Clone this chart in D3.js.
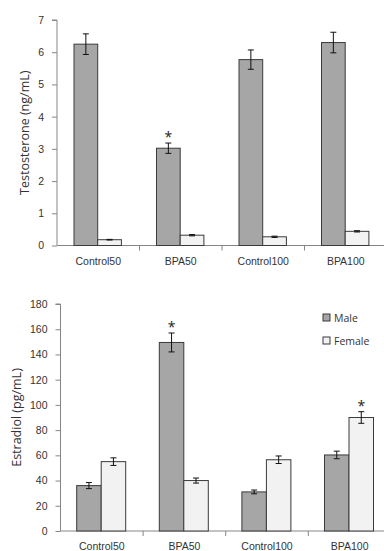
<!DOCTYPE html>
<html>
<head>
<meta charset="utf-8">
<script src="https://cdn.jsdelivr.net/npm/d3@7"></script>
<style>
  body { margin: 0; background: #fff; }
  svg { display: block; font-family: "Open Sans", sans-serif; }
  .axis path, .axis line { stroke: #868686; }
  .axis text { fill: #333; font-size: 10.5px; }
</style>
</head>
<body>
<div id="chart"></div>
<script>
var categories = ["Control50", "BPA50", "Control100", "BPA100"];
var groups = ["Male", "Female"];

var testoMale = [6.25, 3.02, 5.77, 6.3];
var testoMaleErr = [0.32, 0.16, 0.3, 0.32];
var testoFemale = [0.18, 0.32, 0.27, 0.44];
var testoFemaleErr = [0.01, 0.02, 0.02, 0.02];
var testoStars = [[1, "Male"]];

var estMale = [36, 149.5, 31, 60.3];
var estMaleErr = [2.4, 7.5, 1.5, 3];
var estFemale = [55, 40, 56.5, 90];
var estFemaleErr = [3, 2, 3, 4.6];
var estStars = [[1, "Male"], [3, "Female"]];

var colors = { Male: "#a6a6a6", Female: "#f2f2f2" };

var svg = d3.select("#chart")
  .append("svg")
  .attr("width", 384)
  .attr("height", 551);

function drawPanel(opt) {
  var x = d3.scaleBand()
    .domain(categories)
    .range([opt.left, opt.left + opt.bandW * 4]);

  var x1 = d3.scaleBand()
    .domain(groups)
    .range([opt.barOff, opt.barOff + opt.barW * 2]);

  var y = d3.scaleLinear()
    .domain([0, opt.max])
    .range([opt.bottom, opt.top]);

  var g = svg.append("g");

  // y axis
  g.append("g")
    .attr("class", "axis")
    .attr("transform", `translate(${opt.left},0)`)
    .call(d3.axisLeft(y).tickValues(opt.ticks).tickFormat(d3.format("d")).tickSize(5).tickPadding(8))
    .call(a => a.select(".domain").attr("d", `M-5,${opt.top}H0V${opt.bottom}`));

  // x axis
  var xa = g.append("g")
    .attr("class", "axis")
    .attr("transform", `translate(0,${opt.bottom})`)
    .call(d3.axisBottom(x).tickSize(0).tickPadding(12));
  xa.select(".domain").attr("d", `M${opt.left},0H${opt.left + opt.bandW * 4}`);
  xa.selectAll(".sep")
    .data(categories.slice(1))
    .enter()
    .append("line")
    .attr("x1", d => x(d))
    .attr("x2", d => x(d))
    .attr("y1", 0)
    .attr("y2", 5)
    .attr("stroke", "#868686");

  var rows = [];
  categories.forEach(function(c, i) {
    rows.push({ cat: c, grp: "Male", v: opt.male[i], e: opt.maleErr[i] });
    rows.push({ cat: c, grp: "Female", v: opt.female[i], e: opt.femaleErr[i] });
  });

  g.selectAll("rect.bar")
    .data(rows)
    .enter()
    .append("rect")
    .attr("class", "bar")
    .attr("x", d => x(d.cat) + x1(d.grp))
    .attr("y", d => y(d.v))
    .attr("width", x1.bandwidth())
    .attr("height", d => opt.bottom - y(d.v))
    .attr("fill", d => colors[d.grp])
    .attr("stroke", "#3a3a3a")
    .attr("stroke-width", 1);

  var eb = g.selectAll("g.err")
    .data(rows)
    .enter()
    .append("g")
    .attr("class", "err")
    .attr("stroke", "#111")
    .attr("stroke-width", 1);
  var cx = d => x(d.cat) + x1(d.grp) + x1.bandwidth() / 2;
  eb.append("line")
    .attr("x1", cx).attr("x2", cx)
    .attr("y1", d => y(d.v + d.e)).attr("y2", d => y(d.v - d.e));
  eb.append("line")
    .attr("x1", d => cx(d) - 3).attr("x2", d => cx(d) + 3)
    .attr("y1", d => y(d.v + d.e)).attr("y2", d => y(d.v + d.e));
  eb.append("line")
    .attr("x1", d => cx(d) - 3).attr("x2", d => cx(d) + 3)
    .attr("y1", d => y(d.v - d.e)).attr("y2", d => y(d.v - d.e));

  g.selectAll("text.star")
    .data(opt.stars)
    .enter()
    .append("text")
    .attr("class", "star")
    .attr("x", d => x(categories[d[0]]) + x1(d[1]) + x1.bandwidth() / 2)
    .attr("y", function(d) {
      var v = d[1] === "Male" ? opt.male[d[0]] + opt.maleErr[d[0]] : opt.female[d[0]] + opt.femaleErr[d[0]];
      return y(v) - 1;
    })
    .attr("text-anchor", "middle")
    .attr("font-size", "14px")
    .attr("fill", "#222")
    .text("*");

  g.append("text")
    .attr("transform", `translate(${opt.titleX},${(opt.top + opt.bottom) / 2}) rotate(-90)`)
    .attr("text-anchor", "middle")
    .attr("font-size", "12.5px")
    .attr("fill", "#333")
    .text(opt.title);
}

drawPanel({
  left: 57, bandW: 82.5, barOff: 17, barW: 23.7,
  top: 20, bottom: 245.5, max: 7, ticks: d3.range(0, 8, 1),
  male: testoMale, maleErr: testoMaleErr,
  female: testoFemale, femaleErr: testoFemaleErr,
  stars: testoStars, title: "Testosterone (ng/mL)", titleX: 29
});

drawPanel({
  left: 60.5, bandW: 82.6, barOff: 16.2, barW: 24.5,
  top: 304, bottom: 531, max: 180, ticks: d3.range(0, 200, 20),
  male: estMale, maleErr: estMaleErr,
  female: estFemale, femaleErr: estFemaleErr,
  stars: estStars, title: "Estradiol (pg/mL)", titleX: 21
});

// legend
var legend = svg.append("g")
  .selectAll("g")
  .data(groups)
  .enter()
  .append("g")
  .attr("transform", (d, i) => `translate(323,${314 + i * 23})`);
legend.append("rect")
  .attr("width", 7)
  .attr("height", 7)
  .attr("fill", d => colors[d])
  .attr("stroke", "#3a3a3a");
legend.append("text")
  .attr("x", 11)
  .attr("y", 7.5)
  .attr("font-size", "10.5px")
  .attr("fill", "#333")
  .text(d => d);
</script>
</body>
</html>
